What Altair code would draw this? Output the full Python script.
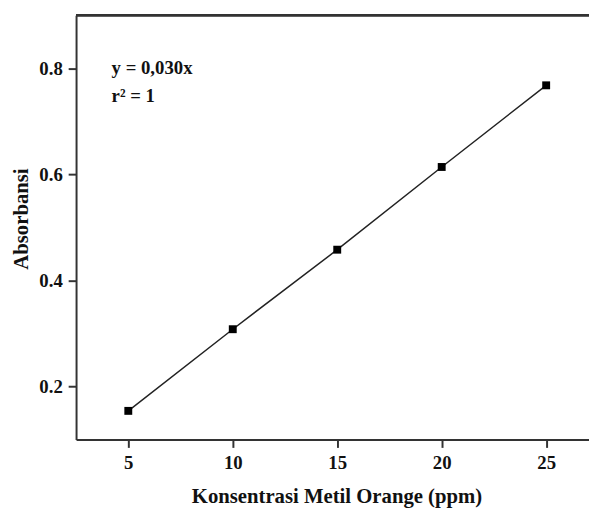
import altair as alt
import pandas as pd

konsentrasi = [5, 10, 15, 20, 25]
absorbansi = [0.154, 0.308, 0.458, 0.614, 0.768]
x_ticks = [5, 10, 15, 20, 25]
y_ticks = [0.2, 0.4, 0.6, 0.8]
annot_lines = ["y = 0,030x", "r\u00b2 = 1"]
annot_x = [4.2, 4.2]
annot_y = [0.790, 0.737]

df = pd.DataFrame({"x": konsentrasi, "y": absorbansi})
df_annot = pd.DataFrame({"t": annot_lines, "x": annot_x, "y": annot_y})

W, H = 520, 430
FONT = "Liberation Serif"

xscale = alt.Scale(domain=[2.5, 27.05], nice=False, zero=False)
yscale = alt.Scale(domain=[0.1, 0.9], nice=False, zero=False)

xenc = alt.X("x:Q", scale=xscale,
             axis=alt.Axis(values=x_ticks, title="Konsentrasi Metil Orange (ppm)",
                           grid=False, titleX=264, titleY=64, titleBaseline="alphabetic",
                           titleAlign="center", labelPadding=6))
yenc = alt.Y("y:Q", scale=yscale,
             axis=alt.Axis(values=y_ticks, title="Absorbansi", grid=False, format=".1f",
                           titleX=-49, titleY=206, titleAngle=270, titleBaseline="alphabetic",
                           titleAlign="center", labelPadding=6))

line = alt.Chart(df).mark_line(color="#222222", strokeWidth=1.5).encode(x=xenc, y=yenc)
pts = alt.Chart(df).mark_point(shape="square", filled=True, size=64, color="#000000", opacity=1).encode(
    x=alt.X("x:Q", scale=xscale), y=alt.Y("y:Q", scale=yscale))
top = alt.Chart(df).mark_rule(color="#333333", strokeWidth=2).encode(
    x=alt.value(0), x2=alt.value(W), y=alt.value(0))
annot = alt.Chart(df_annot).mark_text(font=FONT, fontWeight="bold", fontSize=19, align="left",
                                      baseline="alphabetic", color="#111111").encode(
    x=alt.X("x:Q", scale=xscale), y=alt.Y("y:Q", scale=yscale), text="t:N")

chart = alt.layer(line, pts, top, annot).properties(
    width=W, height=H,
    autosize=alt.AutoSizeParams(type="none"),
    padding={"left": 69, "top": 4, "right": 0, "bottom": 66},
).configure_view(stroke=None).configure_axis(
    domainColor="#333333", domainWidth=2, tickColor="#333333", tickWidth=2, tickSize=8,
    labelFont=FONT, labelFontWeight="bold", labelFontSize=19, labelColor="#111111",
    titleFont=FONT, titleFontWeight="bold", titleFontSize=21, titleColor="#111111",
)

chart.save("out.html", embed_options={"renderer": "svg", "actions": False})
